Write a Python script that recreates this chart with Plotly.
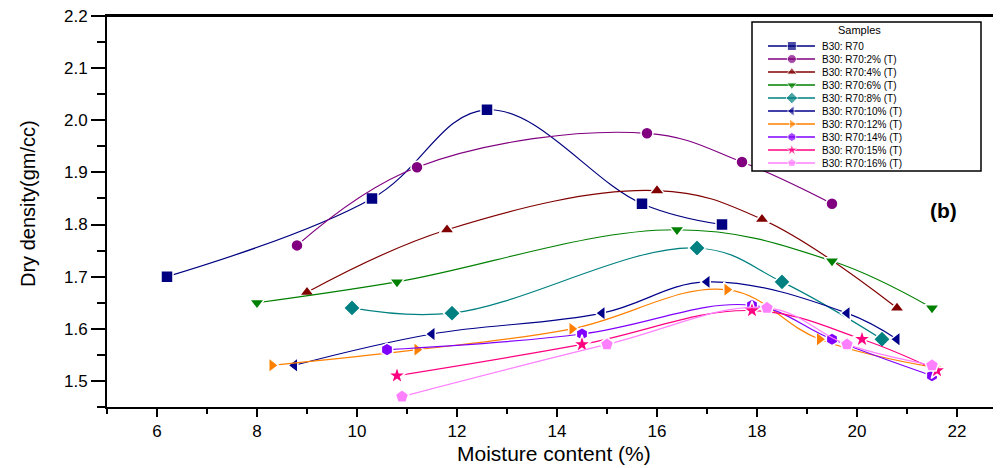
import plotly.graph_objects as go

# ---------------- data ----------------
x_label = "Moisture content (%)"
y_label = "Dry density(gm/cc)"
legend_title = "Samples"
panel_label = "(b)"

names = [
    "B30: R70",
    "B30: R70:2% (T)",
    "B30: R70:4% (T)",
    "B30: R70:6% (T)",
    "B30: R70:8% (T)",
    "B30: R70:10% (T)",
    "B30: R70:12% (T)",
    "B30: R70:14% (T)",
    "B30: R70:15% (T)",
    "B30: R70:16% (T)",
]

x_r70 = [6.2, 10.3, 12.6, 15.7, 17.3]
y_r70 = [1.70, 1.85, 2.02, 1.84, 1.80]

x_2 = [8.8, 11.2, 15.8, 17.7, 19.5]
y_2 = [1.76, 1.91, 1.975, 1.92, 1.84]

x_4 = [9.0, 11.8, 16.0, 18.1, 20.8]
y_4 = [1.67, 1.79, 1.865, 1.81, 1.64]

x_6 = [8.0, 10.8, 16.4, 19.5, 21.5]
y_6 = [1.65, 1.69, 1.79, 1.73, 1.64]

x_8 = [9.9, 11.9, 16.8, 18.5, 20.5]
y_8 = [1.64, 1.63, 1.755, 1.69, 1.58]

x_10 = [8.75, 11.5, 14.9, 17.0, 19.8, 20.8]
y_10 = [1.53, 1.59, 1.63, 1.69, 1.63, 1.58]

x_12 = [8.3, 11.2, 14.3, 17.4, 19.25, 21.6]
y_12 = [1.53, 1.56, 1.60, 1.675, 1.58, 1.525]

x_14 = [10.6, 14.5, 17.9, 19.5, 21.5]
y_14 = [1.56, 1.59, 1.645, 1.58, 1.51]

x_15 = [10.8, 14.5, 17.9, 20.1, 21.6]
y_15 = [1.51, 1.57, 1.635, 1.58, 1.52]

x_16 = [10.9, 15.0, 18.2, 19.8, 21.5]
y_16 = [1.47, 1.57, 1.64, 1.57, 1.53]

xs = [x_r70, x_2, x_4, x_6, x_8, x_10, x_12, x_14, x_15, x_16]
ys = [y_r70, y_2, y_4, y_6, y_8, y_10, y_12, y_14, y_15, y_16]

# ---------------- styles ----------------
colors = ["#000080", "#800080", "#800000", "#008000", "#008080",
          "#00008B", "#FF8000", "#8000FF", "#FF0080", "#FF80FF"]
symbols = ["square", "circle", "triangle-up", "triangle-down", "diamond",
           "triangle-left", "triangle-right", "hexagon", "star", "pentagon"]
msizes = [12, 12, 13, 13, 13, 13, 13, 13, 14, 14]

FONT = "Arial, Liberation Sans, sans-serif"

# The page body has an 8px margin: figure pixel = page pixel - OFF
OFF = 8
W, H = 1001 - OFF, 468 - OFF
# plot-area geometry in page pixels
PL, PR, PT, PB = 107, 1001, 16, 407


def px_to_paper_x(px):
    return (px - PL) / (PR - PL)


def px_to_paper_y(py):
    return (PB - py) / (PB - PT)


fig = go.Figure()

for name, x, y, c, s, ms in zip(names, xs, ys, colors, symbols, msizes):
    fig.add_trace(go.Scatter(
        x=x, y=y, name=name, mode="lines+markers",
        line=dict(color=c, width=1.2, shape="spline", smoothing=1.1),
        marker=dict(symbol=s, size=ms, color=c, line=dict(color="white", width=1.5)),
        showlegend=False,
    ))

# ---------------- hand-built compact legend ----------------
LEG_FONT = 10
ROW = LEG_FONT * 1.3          # plotly line spacing
box_top, first_row = 22, 46
box_bot = first_row + ROW * (len(names) - 1) + 8
box_l, box_r = 752, 981

for i, (c, s) in enumerate(zip(colors, symbols)):
    fig.add_trace(go.Scatter(
        x=[0.07, 0.174, 0.275], y=[i, i, i], xaxis="x2", yaxis="y2",
        mode="lines+markers",
        line=dict(color=c, width=1.6),
        marker=dict(symbol=s, size=[0, 9, 0], color=c),
        showlegend=False, hoverinfo="skip",
    ))

fig.add_annotation(
    x=0.297, y=(len(names) - 1) / 2, xref="x2", yref="y2",
    text="<br>".join(names), showarrow=False,
    xanchor="left", yanchor="middle", align="left",
    font=dict(family=FONT, size=LEG_FONT, color="black"),
)
fig.add_annotation(
    x=0.47, y=(30 - first_row) / ROW, xref="x2", yref="y2", text=legend_title,
    showarrow=False, xanchor="center", yanchor="middle",
    font=dict(family=FONT, size=11, color="black"),
)
fig.add_shape(type="rect", xref="paper", yref="paper",
              x0=px_to_paper_x(box_l), x1=px_to_paper_x(box_r),
              y0=px_to_paper_y(box_bot), y1=px_to_paper_y(box_top),
              line=dict(color="black", width=1.5), fillcolor="rgba(0,0,0,0)")

# top frame line
fig.add_shape(type="line", xref="paper", yref="paper", x0=0, x1=1, y0=1, y1=1,
              line=dict(color="black", width=2))

# panel label
fig.add_annotation(
    x=21.73, y=1.827, xref="x", yref="y", text="<b>" + panel_label + "</b>",
    showarrow=False, font=dict(family=FONT, size=21, color="black"),
)

# axis titles
fig.add_annotation(
    x=0.5, y=px_to_paper_y(453), xref="paper", yref="paper", text=x_label,
    showarrow=False, xanchor="center", yanchor="middle",
    font=dict(family=FONT, size=21, color="black"),
)
fig.add_annotation(
    x=px_to_paper_x(28), y=px_to_paper_y(204), xref="paper", yref="paper",
    text=y_label, textangle=-90, showarrow=False,
    xanchor="center", yanchor="middle",
    font=dict(family=FONT, size=20, color="black"),
)

yrange = [1.45, 2.2]

fig.update_layout(
    width=W, height=H,
    margin=dict(l=PL - OFF, r=1001 - PR, t=PT - OFF, b=468 - PB),
    paper_bgcolor="white", plot_bgcolor="white",
    font=dict(family=FONT, color="black"),
    xaxis=dict(
        range=[5, 22.88], dtick=2, tick0=0,
        showline=True, linecolor="black", linewidth=2, mirror=True,
        ticks="outside", ticklen=8, tickwidth=2, tickcolor="black",
        minor=dict(dtick=1, ticks="outside", ticklen=5, tickwidth=2, tickcolor="black"),
        showgrid=False, zeroline=False, ticklabeloverflow="allow",
        tickfont=dict(family=FONT, size=17, color="black"),
    ),
    yaxis=dict(
        range=yrange, dtick=0.1, tick0=1.5, tickformat=".1f",
        showline=True, linecolor="black", linewidth=2, mirror=False,
        ticks="outside", ticklen=14, tickwidth=2, tickcolor="black",
        minor=dict(dtick=0.05, ticks="outside", ticklen=8, tickwidth=2, tickcolor="black"),
        showgrid=False, zeroline=False, ticklabeloverflow="allow",
        tickfont=dict(family=FONT, size=17, color="black"),
    ),
    # right-hand tick marks (the frame line itself lies just beyond the picture)
    yaxis3=dict(
        range=yrange, dtick=0.1, tick0=1.5, overlaying="y", side="right", anchor="x",
        showline=False, showticklabels=False, showgrid=False, zeroline=False,
        ticks="inside", ticklen=9, tickwidth=2, tickcolor="black",
        minor=dict(dtick=0.05, ticks="inside", ticklen=3, tickwidth=2, tickcolor="black"),
        fixedrange=True,
    ),
    xaxis2=dict(domain=[px_to_paper_x(box_l), px_to_paper_x(box_r)], range=[0, 1],
                visible=False, anchor="y2", fixedrange=True),
    yaxis2=dict(domain=[px_to_paper_y(box_bot), px_to_paper_y(box_top)],
                range=[(box_bot - first_row) / ROW, (box_top - first_row) / ROW],
                visible=False, anchor="x2", fixedrange=True),
    showlegend=False,
)

fig.write_html("out.html")
